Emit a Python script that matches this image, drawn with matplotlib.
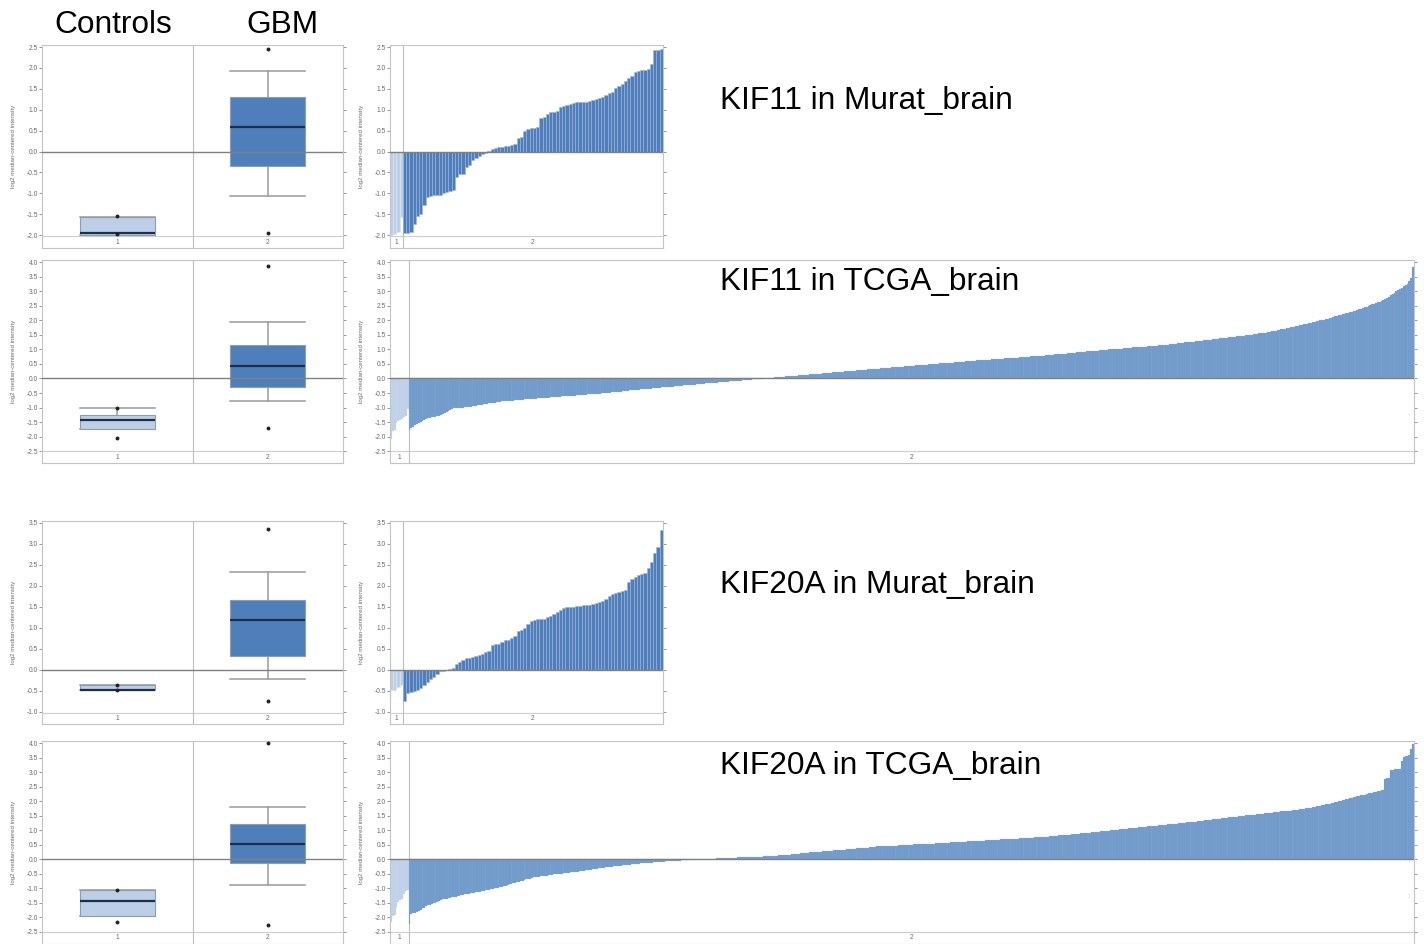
"""
KIF11 / KIF20A expression, controls vs GBM (Oncomine style panels)
Box plots on the left, sorted per-sample bars on the right
"""

import matplotlib.pyplot as plt
from matplotlib.ticker import FormatStrFormatter, MultipleLocator

plt.rcParams["font.family"] = ["Liberation Sans", "DejaVu Sans"]
plt.rcParams["axes.unicode_minus"] = False

GROUP_LABELS = ["1", "2"]
HEADERS = ["Controls", "GBM"]
TITLES = ["KIF11 in Murat_brain", "KIF11 in TCGA_brain",
          "KIF20A in Murat_brain", "KIF20A in TCGA_brain"]
Y_LABEL = "log2 median-centered intensity"

# box stats: [whislo, q1, med, q3, whishi] and fliers [min, max]
kif11_murat_box_ctrl = [-2.00, -2.00, -1.96, -1.56, -1.56]
kif11_murat_fly_ctrl = [-1.98, -1.55]
kif11_murat_box_gbm = [-1.06, -0.35, 0.58, 1.30, 1.92]
kif11_murat_fly_gbm = [-1.95, 2.46]

kif11_tcga_box_ctrl = [-1.75, -1.75, -1.43, -1.24, -1.03]
kif11_tcga_fly_ctrl = [-2.05, -1.03]
kif11_tcga_box_gbm = [-0.77, -0.29, 0.44, 1.15, 1.93]
kif11_tcga_fly_gbm = [-1.72, 3.88]

kif20a_murat_box_ctrl = [-0.48, -0.48, -0.47, -0.36, -0.36]
kif20a_murat_fly_ctrl = [-0.48, -0.36]
kif20a_murat_box_gbm = [-0.23, 0.32, 1.19, 1.65, 2.32]
kif20a_murat_fly_gbm = [-0.74, 3.34]

kif20a_tcga_box_ctrl = [-1.97, -1.97, -1.45, -1.08, -1.08]
kif20a_tcga_fly_ctrl = [-2.18, -1.08]
kif20a_tcga_box_gbm = [-0.88, -0.12, 0.53, 1.20, 1.81]
kif20a_tcga_fly_gbm = [-2.26, 4.00]

# per-sample values, sorted (controls then GBM)
kif11_murat_ctrl = [-2.00, -1.97, -1.92, -1.56]
kif11_murat_gbm = [
    -1.95, -1.94, -1.93, -1.73, -1.55, -1.50, -1.28, -1.08, -1.07, -1.05,
    -1.04, -1.03, -1.00, -0.98, -0.95, -0.92, -0.62, -0.55, -0.53, -0.37,
    -0.33, -0.21, -0.16, -0.11, -0.06, -0.03, 0.02, 0.05, 0.08, 0.10,
    0.11, 0.13, 0.14, 0.15, 0.17, 0.33, 0.35, 0.50, 0.55, 0.56,
    0.57, 0.58, 0.80, 0.83, 0.91, 0.94, 0.95, 0.96, 1.06, 1.09,
    1.12, 1.14, 1.15, 1.18, 1.19, 1.19, 1.19, 1.20, 1.23, 1.26,
    1.28, 1.31, 1.36, 1.40, 1.42, 1.52, 1.58, 1.62, 1.70, 1.75,
    1.80, 1.90, 1.92, 1.94, 1.96, 1.98, 2.10, 2.43, 2.44, 2.45,
]

kif11_tcga_ctrl = [-2.10, -1.80, -1.79, -1.52, -1.47, -1.44, -1.40, -1.33, -1.28, -1.05]
kif11_tcga_gbm = [
    -1.78, -1.72, -1.67, -1.61, -1.55, -1.52, -1.49, -1.46, -1.43, -1.40,
    -1.37, -1.35, -1.34, -1.32, -1.31, -1.29, -1.28, -1.26, -1.23, -1.19,
    -1.16, -1.13, -1.10, -1.06, -1.03, -1.02, -1.02, -1.01, -1.00, -1.00,
    -0.99, -0.98, -0.98, -0.97, -0.96, -0.95, -0.94, -0.93, -0.92, -0.91,
    -0.89, -0.88, -0.87, -0.86, -0.85, -0.84, -0.83, -0.82, -0.81, -0.80,
    -0.79, -0.79, -0.78, -0.78, -0.77, -0.76, -0.76, -0.75, -0.75, -0.74,
    -0.73, -0.73, -0.72, -0.72, -0.71, -0.70, -0.70, -0.69, -0.69, -0.68,
    -0.68, -0.67, -0.67, -0.66, -0.66, -0.66, -0.65, -0.65, -0.64, -0.64,
    -0.63, -0.63, -0.62, -0.62, -0.61, -0.61, -0.60, -0.60, -0.59, -0.59,
    -0.58, -0.58, -0.57, -0.57, -0.56, -0.56, -0.55, -0.55, -0.54, -0.54,
    -0.53, -0.53, -0.52, -0.52, -0.51, -0.51, -0.50, -0.49, -0.49, -0.48,
    -0.47, -0.47, -0.46, -0.45, -0.45, -0.44, -0.43, -0.43, -0.42, -0.41,
    -0.41, -0.40, -0.39, -0.39, -0.38, -0.37, -0.37, -0.36, -0.36, -0.35,
    -0.35, -0.34, -0.33, -0.33, -0.32, -0.32, -0.31, -0.31, -0.30, -0.29,
    -0.29, -0.28, -0.28, -0.27, -0.27, -0.26, -0.25, -0.25, -0.24, -0.24,
    -0.23, -0.22, -0.22, -0.21, -0.21, -0.20, -0.20, -0.19, -0.18, -0.18,
    -0.17, -0.17, -0.16, -0.16, -0.15, -0.15, -0.14, -0.13, -0.13, -0.12,
    -0.12, -0.11, -0.11, -0.10, -0.10, -0.09, -0.08, -0.08, -0.07, -0.07,
    -0.06, -0.06, -0.05, -0.05, -0.04, -0.03, -0.03, -0.02, -0.02, -0.01,
    -0.01, 0.00, 0.01, 0.02, 0.02, 0.03, 0.03, 0.04, 0.04, 0.05,
    0.05, 0.06, 0.06, 0.07, 0.07, 0.08, 0.08, 0.09, 0.10, 0.10,
    0.11, 0.11, 0.12, 0.12, 0.13, 0.13, 0.14, 0.15, 0.15, 0.16,
    0.16, 0.17, 0.17, 0.18, 0.18, 0.19, 0.20, 0.20, 0.21, 0.21,
    0.22, 0.22, 0.23, 0.24, 0.24, 0.25, 0.25, 0.26, 0.26, 0.27,
    0.27, 0.28, 0.28, 0.29, 0.29, 0.30, 0.30, 0.31, 0.31, 0.32,
    0.33, 0.33, 0.34, 0.34, 0.35, 0.35, 0.36, 0.36, 0.37, 0.37,
    0.38, 0.38, 0.39, 0.39, 0.40, 0.41, 0.41, 0.42, 0.42, 0.43,
    0.43, 0.44, 0.44, 0.45, 0.45, 0.46, 0.46, 0.47, 0.47, 0.48,
    0.49, 0.49, 0.50, 0.50, 0.51, 0.51, 0.52, 0.52, 0.53, 0.53,
    0.54, 0.54, 0.55, 0.55, 0.56, 0.56, 0.57, 0.57, 0.58, 0.58,
    0.59, 0.59, 0.60, 0.60, 0.61, 0.61, 0.62, 0.62, 0.63, 0.63,
    0.64, 0.64, 0.65, 0.65, 0.66, 0.66, 0.67, 0.67, 0.68, 0.68,
    0.68, 0.69, 0.69, 0.70, 0.70, 0.71, 0.71, 0.72, 0.72, 0.73,
    0.73, 0.74, 0.74, 0.75, 0.75, 0.76, 0.76, 0.77, 0.77, 0.78,
    0.78, 0.79, 0.79, 0.80, 0.80, 0.81, 0.82, 0.82, 0.83, 0.83,
    0.84, 0.85, 0.85, 0.86, 0.86, 0.87, 0.87, 0.88, 0.89, 0.89,
    0.90, 0.90, 0.91, 0.92, 0.92, 0.93, 0.93, 0.94, 0.95, 0.95,
    0.96, 0.96, 0.97, 0.98, 0.98, 0.99, 0.99, 1.00, 1.00, 1.01,
    1.01, 1.02, 1.02, 1.03, 1.03, 1.04, 1.04, 1.05, 1.05, 1.06,
    1.07, 1.07, 1.08, 1.08, 1.09, 1.09, 1.10, 1.10, 1.11, 1.11,
    1.12, 1.12, 1.13, 1.13, 1.14, 1.14, 1.15, 1.16, 1.16, 1.17,
    1.18, 1.19, 1.19, 1.20, 1.21, 1.22, 1.22, 1.23, 1.24, 1.24,
    1.25, 1.26, 1.27, 1.27, 1.28, 1.29, 1.30, 1.30, 1.31, 1.32,
    1.33, 1.33, 1.34, 1.35, 1.36, 1.36, 1.37, 1.38, 1.39, 1.39,
    1.40, 1.41, 1.42, 1.43, 1.43, 1.44, 1.45, 1.46, 1.47, 1.47,
    1.48, 1.49, 1.50, 1.51, 1.51, 1.52, 1.53, 1.54, 1.55, 1.56,
    1.56, 1.57, 1.58, 1.59, 1.61, 1.62, 1.64, 1.65, 1.67, 1.68,
    1.69, 1.71, 1.72, 1.74, 1.75, 1.76, 1.78, 1.79, 1.80, 1.82,
    1.83, 1.85, 1.86, 1.88, 1.89, 1.91, 1.92, 1.94, 1.95, 1.97,
    1.98, 2.00, 2.01, 2.03, 2.04, 2.06, 2.08, 2.10, 2.12, 2.14,
    2.15, 2.17, 2.19, 2.21, 2.23, 2.25, 2.27, 2.29, 2.30, 2.32,
    2.34, 2.36, 2.38, 2.40, 2.42, 2.45, 2.47, 2.50, 2.52, 2.55,
    2.57, 2.59, 2.62, 2.64, 2.67, 2.69, 2.73, 2.78, 2.82, 2.87,
    2.91, 2.96, 3.00, 3.05, 3.09, 3.13, 3.17, 3.22, 3.26, 3.35,
    3.45, 3.83,
]

kif20a_murat_ctrl = [-0.48, -0.47, -0.42, -0.36]
kif20a_murat_gbm = [
    -0.75, -0.56, -0.52, -0.50, -0.48, -0.44, -0.37, -0.29, -0.22, -0.17,
    -0.10, -0.04, -0.02, -0.01, 0.01, 0.05, 0.13, 0.19, 0.24, 0.27,
    0.29, 0.30, 0.32, 0.35, 0.38, 0.43, 0.45, 0.60, 0.61, 0.62,
    0.67, 0.70, 0.71, 0.75, 0.81, 0.92, 0.94, 1.00, 1.10, 1.17,
    1.19, 1.20, 1.20, 1.22, 1.26, 1.29, 1.32, 1.37, 1.43, 1.47,
    1.49, 1.50, 1.50, 1.51, 1.52, 1.53, 1.54, 1.55, 1.56, 1.58,
    1.61, 1.64, 1.68, 1.75, 1.81, 1.83, 1.84, 1.87, 1.91, 2.10,
    2.16, 2.21, 2.25, 2.28, 2.31, 2.42, 2.57, 2.78, 2.92, 3.33,
]

kif20a_tcga_ctrl = [-2.18, -1.96, -1.94, -1.66, -1.48, -1.42, -1.36, -1.20, -1.09, -1.07]
kif20a_tcga_gbm = [
    -2.23, -1.89, -1.87, -1.85, -1.83, -1.79, -1.74, -1.70, -1.67, -1.63,
    -1.60, -1.58, -1.56, -1.53, -1.51, -1.49, -1.45, -1.41, -1.37, -1.36,
    -1.36, -1.35, -1.34, -1.32, -1.31, -1.29, -1.28, -1.26, -1.25, -1.23,
    -1.22, -1.20, -1.19, -1.18, -1.17, -1.16, -1.14, -1.13, -1.12, -1.10,
    -1.09, -1.08, -1.06, -1.05, -1.04, -1.02, -1.01, -1.00, -0.98, -0.97,
    -0.95, -0.93, -0.91, -0.89, -0.87, -0.86, -0.84, -0.82, -0.80, -0.78,
    -0.76, -0.74, -0.72, -0.70, -0.69, -0.67, -0.65, -0.63, -0.62, -0.61,
    -0.60, -0.59, -0.59, -0.58, -0.57, -0.56, -0.55, -0.54, -0.53, -0.52,
    -0.52, -0.51, -0.50, -0.49, -0.48, -0.48, -0.47, -0.46, -0.45, -0.44,
    -0.44, -0.43, -0.42, -0.41, -0.40, -0.39, -0.38, -0.37, -0.36, -0.35,
    -0.34, -0.33, -0.32, -0.31, -0.30, -0.29, -0.28, -0.28, -0.27, -0.26,
    -0.25, -0.24, -0.23, -0.22, -0.22, -0.21, -0.21, -0.20, -0.19, -0.19,
    -0.18, -0.17, -0.17, -0.16, -0.16, -0.15, -0.15, -0.14, -0.13, -0.13,
    -0.12, -0.12, -0.11, -0.11, -0.10, -0.10, -0.09, -0.09, -0.08, -0.08,
    -0.08, -0.07, -0.07, -0.06, -0.06, -0.05, -0.05, -0.04, -0.04, -0.04,
    -0.03, -0.03, -0.02, -0.02, -0.01, -0.01, -0.01, 0.00, 0.00, 0.01,
    0.01, 0.01, 0.01, 0.02, 0.02, 0.02, 0.03, 0.03, 0.03, 0.03,
    0.04, 0.04, 0.04, 0.05, 0.05, 0.05, 0.05, 0.06, 0.06, 0.06,
    0.07, 0.07, 0.07, 0.07, 0.08, 0.08, 0.08, 0.09, 0.09, 0.09,
    0.09, 0.10, 0.10, 0.10, 0.10, 0.11, 0.11, 0.12, 0.12, 0.13,
    0.13, 0.14, 0.15, 0.15, 0.16, 0.16, 0.17, 0.17, 0.18, 0.19,
    0.19, 0.20, 0.20, 0.21, 0.21, 0.22, 0.23, 0.23, 0.24, 0.24,
    0.25, 0.25, 0.26, 0.27, 0.27, 0.28, 0.28, 0.29, 0.29, 0.30,
    0.31, 0.31, 0.32, 0.32, 0.33, 0.33, 0.34, 0.35, 0.35, 0.36,
    0.36, 0.37, 0.37, 0.38, 0.39, 0.39, 0.40, 0.40, 0.41, 0.42,
    0.43, 0.43, 0.44, 0.44, 0.44, 0.45, 0.45, 0.45, 0.46, 0.46,
    0.46, 0.47, 0.47, 0.47, 0.48, 0.48, 0.48, 0.49, 0.49, 0.50,
    0.50, 0.50, 0.51, 0.51, 0.51, 0.52, 0.52, 0.52, 0.53, 0.53,
    0.53, 0.54, 0.54, 0.54, 0.55, 0.55, 0.55, 0.56, 0.56, 0.57,
    0.57, 0.57, 0.58, 0.58, 0.58, 0.59, 0.59, 0.59, 0.60, 0.60,
    0.60, 0.61, 0.61, 0.61, 0.62, 0.62, 0.63, 0.63, 0.64, 0.64,
    0.64, 0.65, 0.65, 0.66, 0.66, 0.66, 0.67, 0.67, 0.67, 0.68,
    0.68, 0.69, 0.69, 0.69, 0.70, 0.70, 0.70, 0.71, 0.71, 0.72,
    0.72, 0.72, 0.73, 0.73, 0.74, 0.74, 0.74, 0.75, 0.75, 0.76,
    0.76, 0.77, 0.77, 0.78, 0.78, 0.79, 0.80, 0.80, 0.81, 0.81,
    0.82, 0.83, 0.83, 0.84, 0.84, 0.85, 0.85, 0.86, 0.87, 0.87,
    0.88, 0.88, 0.89, 0.90, 0.90, 0.91, 0.91, 0.92, 0.93, 0.93,
    0.94, 0.94, 0.95, 0.96, 0.96, 0.97, 0.98, 0.98, 0.99, 1.00,
    1.00, 1.01, 1.02, 1.03, 1.03, 1.04, 1.05, 1.05, 1.06, 1.07,
    1.07, 1.08, 1.09, 1.10, 1.10, 1.11, 1.12, 1.12, 1.13, 1.14,
    1.14, 1.15, 1.16, 1.16, 1.17, 1.18, 1.18, 1.19, 1.19, 1.20,
    1.21, 1.22, 1.22, 1.23, 1.23, 1.24, 1.25, 1.26, 1.26, 1.27,
    1.28, 1.28, 1.29, 1.30, 1.30, 1.31, 1.32, 1.33, 1.33, 1.34,
    1.35, 1.36, 1.36, 1.37, 1.38, 1.39, 1.39, 1.40, 1.41, 1.42,
    1.42, 1.43, 1.44, 1.45, 1.45, 1.46, 1.47, 1.48, 1.48, 1.49,
    1.50, 1.51, 1.51, 1.52, 1.53, 1.53, 1.54, 1.55, 1.56, 1.56,
    1.57, 1.58, 1.59, 1.59, 1.60, 1.61, 1.62, 1.62, 1.63, 1.64,
    1.65, 1.65, 1.66, 1.67, 1.68, 1.68, 1.69, 1.70, 1.71, 1.71,
    1.72, 1.73, 1.74, 1.75, 1.76, 1.77, 1.78, 1.79, 1.80, 1.82,
    1.83, 1.85, 1.86, 1.88, 1.89, 1.91, 1.92, 1.94, 1.95, 1.97,
    1.98, 2.00, 2.02, 2.03, 2.05, 2.07, 2.08, 2.10, 2.12, 2.13,
    2.15, 2.17, 2.18, 2.20, 2.22, 2.23, 2.25, 2.27, 2.28, 2.30,
    2.32, 2.33, 2.35, 2.37, 2.38, 2.40, 2.78, 2.80, 2.80, 3.08,
    3.09, 3.10, 3.11, 3.12, 3.13, 3.38, 3.52, 3.55, 3.57, 3.60,
    3.80, 3.96,
]

# colours
LIGHT = "#bccfe7"
DARK = "#4f7fba"
BAR_DARK = "#4f7eba"
BAR_TCGA = "#7099c9"
FRAME = "#c4c4c4"
TICK_GREY = "#6a6a6a"

# figure geometry (pixels, figure is 1424 x 944)
FIG_W, FIG_H = 1424, 944
BOX_X = (42, 343)
BAR_X_SMALL = (390, 663)
BAR_X_BIG = (390, 1414)
ROW_Y = [(45, 248), (260, 463), (521, 724), (741, 944)]


def px_axes(fig, x_px, y_px):
    """Ajoute un axe placé en pixels (origine en haut à gauche)"""
    l = x_px[0] / FIG_W
    w = (x_px[1] - x_px[0]) / FIG_W
    b = 1 - y_px[1] / FIG_H
    h = (y_px[1] - y_px[0]) / FIG_H
    return fig.add_axes([l, b, w, h])


def style_axes(fig, ax, x_px, y_px, ylim, sep, divider, label_x):
    """Cadre, graduations et lignes communes aux deux types de panneaux"""
    ax.set_ylim(*ylim)
    ax.yaxis.set_major_locator(MultipleLocator(0.5))
    ax.yaxis.set_major_formatter(FormatStrFormatter("%.1f"))
    ax.tick_params(axis="y", direction="out", length=2, width=0.5,
                   left=True, right=True, labelsize=4.8, colors=TICK_GREY, pad=1)
    ax.tick_params(axis="x", bottom=False, labelbottom=False)
    ax.set_yticks([t for t in ax.get_yticks() if sep - 0.01 <= t <= ylim[1] + 0.01])
    for sp in ax.spines.values():
        sp.set_color(FRAME)
        sp.set_linewidth(0.8)

    ax.axhline(sep, color="#d0d0d0", lw=0.9, zorder=1)
    ax.axvline(divider, color="#bdbdbd", lw=0.8, zorder=1)
    ax.axhline(0, color="#808080", lw=1.0, zorder=4)

    y_lab = (sep + ylim[0]) / 2
    for x, lab in zip(label_x, GROUP_LABELS):
        ax.text(x, y_lab, lab, ha="center", va="center", fontsize=4.8, color=TICK_GREY)

    fig.text((x_px[0] - 28) / FIG_W, 1 - (y_px[0] + y_px[1]) / 2 / FIG_H, Y_LABEL,
             rotation=90, ha="center", va="center", fontsize=4.4, color=TICK_GREY)


def draw_box(fig, y_px, ylim, sep, box_ctrl, fly_ctrl, box_gbm, fly_gbm):
    """Boîtes à moustaches contrôles / GBM"""
    ax = px_axes(fig, BOX_X, y_px)
    stats = []
    for box, fly in ((box_ctrl, fly_ctrl), (box_gbm, fly_gbm)):
        stats.append({"whislo": box[0], "q1": box[1], "med": box[2],
                      "q3": box[3], "whishi": box[4], "fliers": fly})
    res = ax.bxp(stats, positions=[1, 2], widths=0.5, capwidths=0.5,
                 patch_artist=True, showfliers=True, manage_ticks=False,
                 boxprops=dict(edgecolor="#8c9cb2", linewidth=0.8),
                 medianprops=dict(color="#1c2e4a", linewidth=1.6),
                 whiskerprops=dict(color="#9a9a9a", linewidth=1.1),
                 capprops=dict(color="#9a9a9a", linewidth=1.1),
                 flierprops=dict(marker="o", markersize=1.8, markerfacecolor="#222222",
                                 markeredgecolor="#222222"))
    res["boxes"][0].set_facecolor(LIGHT)
    res["boxes"][1].set_facecolor(DARK)
    for b in res["boxes"]:
        b.set_zorder(3)
    for m in res["medians"]:
        m.set_zorder(5)
    for f in res["fliers"]:
        f.set_zorder(6)
    ax.set_xlim(0.5, 2.5)
    style_axes(fig, ax, BOX_X, y_px, ylim, sep, 1.5, [1, 2])
    return ax


def draw_waterfall(fig, x_px, y_px, ylim, sep, ctrl, gbm, tcga):
    """Barres triées par échantillon : contrôles puis GBM"""
    ax = px_axes(fig, x_px, y_px)
    n_c, n_g = len(ctrl), len(gbm)
    xs_c = list(range(n_c))
    xs_g = list(range(n_c, n_c + n_g))
    if tcga:
        ax.bar(xs_c, ctrl, width=1.0, color=LIGHT, edgecolor="#d6e2f0", linewidth=0.2, zorder=2)
        ax.bar(xs_g, gbm, width=1.0, color=BAR_TCGA, edgecolor="#8fb0d8", linewidth=0.15, zorder=2)
    else:
        ax.bar(xs_c, ctrl, width=1.0, color=LIGHT, edgecolor="#dbe5f2", linewidth=0.4, zorder=2)
        ax.bar(xs_g, gbm, width=1.0, color=BAR_DARK, edgecolor="#9ab6db", linewidth=0.4, zorder=2)
    ax.set_xlim(-0.5, n_c + n_g - 0.5)
    style_axes(fig, ax, x_px, y_px, ylim, sep, n_c - 0.5,
               [(n_c - 1) / 2, n_c + (n_g - 1) / 2])
    return ax


if __name__ == "__main__":
    fig = plt.figure(figsize=(FIG_W / 100, FIG_H / 100), dpi=100)

    # ylim and the line above the "1 / 2" labels, per row
    row_ylim = [(-2.31, 2.55), (-2.91, 4.08), (-1.29, 3.54), (-2.93, 4.08)]
    row_sep = [-2.03, -2.5, -1.03, -2.5]

    draw_box(fig, ROW_Y[0], row_ylim[0], row_sep[0], kif11_murat_box_ctrl,
             kif11_murat_fly_ctrl, kif11_murat_box_gbm, kif11_murat_fly_gbm)
    draw_box(fig, ROW_Y[1], row_ylim[1], row_sep[1], kif11_tcga_box_ctrl,
             kif11_tcga_fly_ctrl, kif11_tcga_box_gbm, kif11_tcga_fly_gbm)
    draw_box(fig, ROW_Y[2], row_ylim[2], row_sep[2], kif20a_murat_box_ctrl,
             kif20a_murat_fly_ctrl, kif20a_murat_box_gbm, kif20a_murat_fly_gbm)
    draw_box(fig, ROW_Y[3], row_ylim[3], row_sep[3], kif20a_tcga_box_ctrl,
             kif20a_tcga_fly_ctrl, kif20a_tcga_box_gbm, kif20a_tcga_fly_gbm)

    draw_waterfall(fig, BAR_X_SMALL, ROW_Y[0], row_ylim[0], row_sep[0],
                   kif11_murat_ctrl, kif11_murat_gbm, tcga=False)
    draw_waterfall(fig, BAR_X_BIG, ROW_Y[1], row_ylim[1], row_sep[1],
                   kif11_tcga_ctrl, kif11_tcga_gbm, tcga=True)
    draw_waterfall(fig, BAR_X_SMALL, ROW_Y[2], row_ylim[2], row_sep[2],
                   kif20a_murat_ctrl, kif20a_murat_gbm, tcga=False)
    draw_waterfall(fig, BAR_X_BIG, ROW_Y[3], row_ylim[3], row_sep[3],
                   kif20a_tcga_ctrl, kif20a_tcga_gbm, tcga=True)

    # column headers and panel titles
    fig.text(113 / FIG_W, 1 - 25 / FIG_H, HEADERS[0], ha="center", va="center", fontsize=22.8)
    fig.text(282 / FIG_W, 1 - 25 / FIG_H, HEADERS[1], ha="center", va="center", fontsize=22.8)
    for title, y in zip(TITLES, [101, 282, 585, 766]):
        fig.text(720 / FIG_W, 1 - y / FIG_H, title, ha="left", va="center", fontsize=22.8)

    fig.savefig("out.png", dpi=100)
